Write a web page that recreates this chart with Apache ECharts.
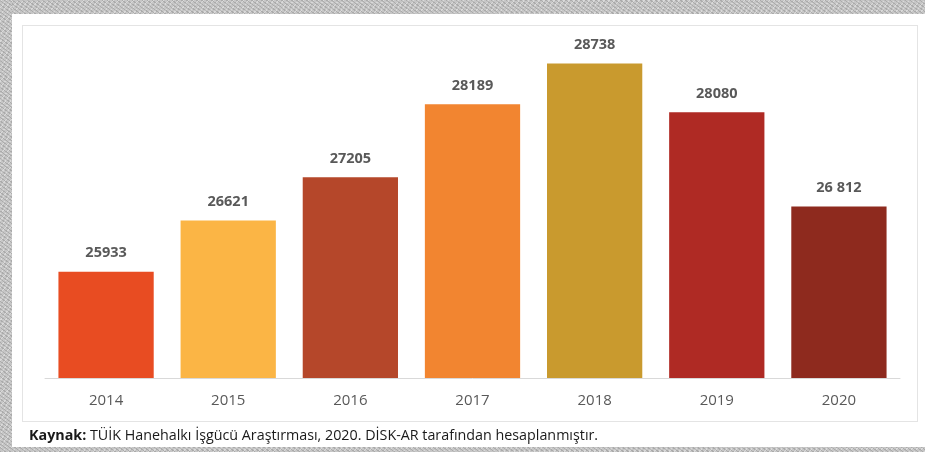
<!DOCTYPE html>
<html>
<head>
<meta charset="utf-8">
<script src="https://cdn.jsdelivr.net/npm/echarts@6/dist/echarts.min.js"></script>
<style>
  html, body { margin: 0; padding: 0; background: #fff; }
  body { width: 925px; height: 452px; overflow: hidden; position: relative; }
  .band {
    position: absolute;
    background-color: #c6c6c6;
    background-image:
      repeating-linear-gradient(37deg, rgba(90,90,90,0.25) 0 1px, transparent 1px 3px),
      repeating-linear-gradient(-53deg, rgba(255,255,255,0.35) 0 1px, transparent 1px 4px);
  }
  #bandTop { left: 0; top: 0; width: 925px; height: 14px; }
  #bandLeft { left: 0; top: 0; width: 12px; height: 452px; }
  #bandBottom { left: 0; top: 447px; width: 925px; height: 5px; }
  #rightWhite { position: absolute; left: 910px; top: 14px; width: 15px; height: 433px; background: #fff; }
  #box {
    position: absolute; left: 22px; top: 25px; width: 896px; height: 397px;
    border: 1px solid #e4e4e4; box-sizing: border-box;
  }
  #chart { position: absolute; left: 0; top: 0; width: 925px; height: 452px; }
</style>
</head>
<body>
<div class="band" id="bandTop"></div>
<div class="band" id="bandLeft"></div>
<div class="band" id="bandBottom"></div>
<div id="rightWhite"></div>
<div id="box"></div>
<div id="chart"></div>
<script>
// yıllar ve değerler
var years = ['2014', '2015', '2016', '2017', '2018', '2019', '2020'];
var values = [25933, 26621, 27205, 28189, 28738, 28080, 26812];
var valueLabels = ['25933', '26621', '27205', '28189', '28738', '28080', '26 812'];
var barColors = ['#e84c22', '#fbb545', '#b5472a', '#f28530', '#c99a2e', '#af2a24', '#8e2a1e'];

var chart = echarts.init(document.getElementById('chart'));
var option = {
    animation: false,
    backgroundColor: 'transparent',
    textStyle: { fontFamily: '"Open Sans", sans-serif' },
    grid: { left: 45, right: 25, top: 44, bottom: 74 },
    title: {
        left: 24,
        top: 424,
        text: '{b|Kaynak:} TÜİK Hanehalkı İşgücü Araştırması, 2020. DİSK-AR tarafından hesaplanmıştır.',
        textStyle: {
            fontSize: 14.3,
            fontWeight: 'normal',
            color: '#1a1a1a',
            rich: {
                b: { fontSize: 14.3, fontWeight: 'bold', color: '#1a1a1a' }
            }
        }
    },
    xAxis: {
        type: 'category',
        data: years,
        axisLine: { lineStyle: { color: '#d9d9d9', width: 1 } },
        axisTick: { show: false },
        axisLabel: { color: '#595959', fontSize: 15, margin: 15 }
    },
    yAxis: {
        type: 'value',
        min: 24500,
        max: 29000,
        show: false,
        splitLine: { show: false }
    },
    series: [{
        type: 'bar',
        barWidth: '78%',
        data: values.map(function (v, i) {
            return { value: v, itemStyle: { color: barColors[i] } };
        }),
        label: {
            show: true,
            position: 'top',
            distance: 11,
            color: '#595959',
            fontSize: 14.5,
            fontWeight: 'bold',
            formatter: function (p) { return valueLabels[p.dataIndex]; }
        }
    }]
};
chart.setOption(option);
</script>
</body>
</html>
